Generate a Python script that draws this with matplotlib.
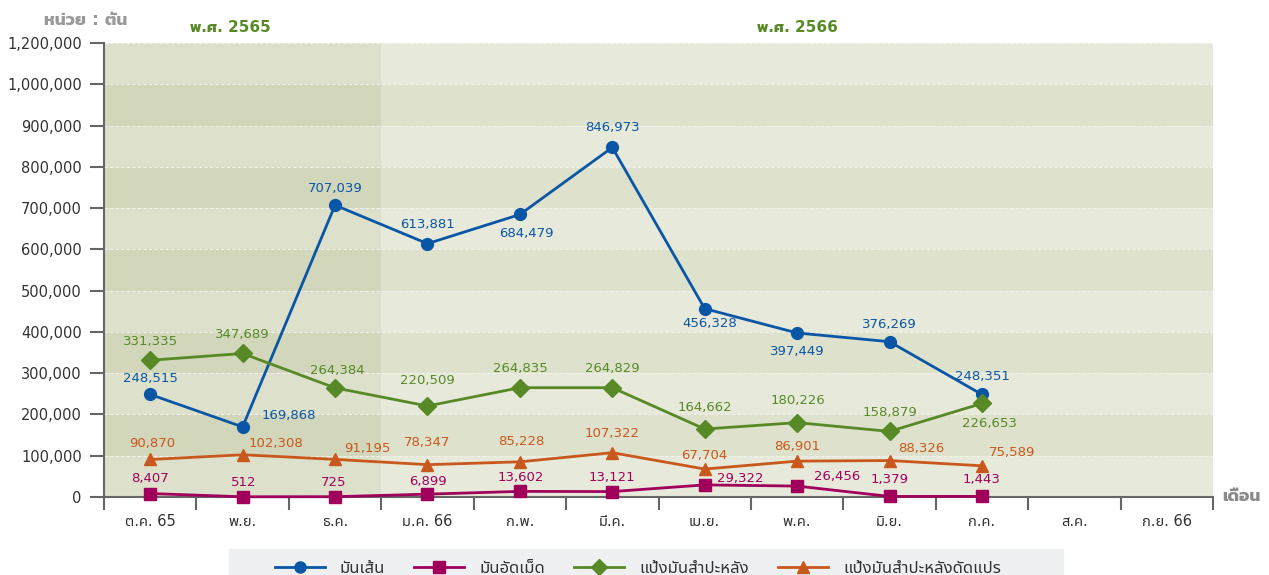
import matplotlib
matplotlib.use('Agg')
import matplotlib.pyplot as plt
import numpy as np
from matplotlib import font_manager
from matplotlib.lines import Line2D
from matplotlib.patches import Rectangle

# ---------------- data ----------------
months = ['ต.ค. 65', 'พ.ย.', 'ธ.ค.', 'ม.ค. 66', 'ก.พ.', 'มี.ค.', 'เม.ย.', 'พ.ค.',
          'มิ.ย.', 'ก.ค.', 'ส.ค.', 'ก.ย. 66']
series_names = ['มันเส้น', 'มันอัดเม็ด', 'แป้งมันสำปะหลัง', 'แป้งมันสำปะหลังดัดแปร']
mun_sen = [248515, 169868, 707039, 613881, 684479, 846973, 456328, 397449, 376269, 248351]
mun_atmet = [8407, 512, 725, 6899, 13602, 13121, 29322, 26456, 1379, 1443]
paeng = [331335, 347689, 264384, 220509, 264835, 264829, 164662, 180226, 158879, 226653]
paeng_dat = [90870, 102308, 91195, 78347, 85228, 107322, 67704, 86901, 88326, 75589]
yticks = [0, 100000, 200000, 300000, 400000, 500000, 600000, 700000, 800000,
          900000, 1000000, 1200000]
year_labels = ['พ.ศ. 2565', 'พ.ศ. 2566']
unit_label = 'หน่วย : ตัน'
xaxis_label = 'เดือน'

# ---------------- fonts ----------------
fl = font_manager.fontManager.ttflist
avail = {f.name for f in fl}
cands = ['Noto Sans Thai', 'Anuphan', 'Kanit', 'Prompt', 'Sarabun', 'Athiti', 'Bai Jamjuree', 'Loma']
thai = next((c for c in cands if c in avail), 'Loma')
def has_bold(name):
    for f in fl:
        if f.name == name:
            w = f.weight
            if isinstance(w, str):
                if 'bold' in w.lower():
                    return True
            elif w >= 650:
                return True
    return False
thai_bold = next((c for c in cands if c in avail and has_bold(c)), thai)
FAM = ['DejaVu Sans', thai]
FAMB = ['DejaVu Sans', thai_bold]
plt.rcParams['font.family'] = FAM

# ---------------- styles ----------------
colors = ['#0a56a6', '#a0005c', '#578a27', '#c9581c']
markers = ['o', 's', 'D', '^']
msizes = [8.5, 8.5, 9, 9]
offsets = [
    [(0, 16), (46, 11), (0, 17), (0, 19), (7, -19), (0, 20), (5, -15), (0, -19), (0, 17), (0, 18)],
    [(0, 15), (1, 14), (-1, 14), (0, 13), (1, 14), (0, 14), (36, 6), (40, 10), (0, 17), (0, 17)],
    [(0, 19), (0, 19), (2, 17), (0, 25), (0, 19), (0, 19), (0, 22), (1, 22), (0, 19), (7, -20)],
    [(2, 16), (33, 11), (32, 11), (0, 22), (1, 20), (0, 19), (0, 14), (0, 15), (32, 12), (30, 13)],
]
draw_order = [2, 3, 1, 0]

W, H = 1269, 575
fig = plt.figure(figsize=(W / 100, H / 100), dpi=100)
ax = fig.add_axes([104 / W, 1 - 497 / H, (1213 - 104) / W, (497 - 43) / H])

def fwd(v):
    v = np.asarray(v, dtype=float)
    return np.where(v <= 1e6, v, 1e6 + (v - 1e6) / 2)

def inv(u):
    u = np.asarray(u, dtype=float)
    return np.where(u <= 1e6, u, 1e6 + (u - 1e6) * 2)

ax.set_yscale('function', functions=(fwd, inv))
ax.set_ylim(0, 1200000)
ax.set_xlim(-0.5, len(months) - 0.5)

# background bands
split = 3 / len(months)
band_cols = {('L', 0): '#dde0cb', ('L', 1): '#d2d6bb', ('R', 0): '#e7e9da', ('R', 1): '#dee1cc'}
for k in range(len(yticks) - 1):
    dark = k % 2
    ax.axhspan(yticks[k], yticks[k + 1], xmin=0, xmax=split, color=band_cols[('L', dark)], lw=0, zorder=0)
    ax.axhspan(yticks[k], yticks[k + 1], xmin=split, xmax=1, color=band_cols[('R', dark)], lw=0, zorder=0)
for t in yticks[1:]:
    ax.axhline(t, color='#f0f1ea', lw=0.8, ls=(0, (3, 2)), zorder=0.5)

series = [mun_sen, mun_atmet, paeng, paeng_dat]
x = np.arange(len(mun_sen))
for i in draw_order:
    vals = series[i]
    ax.plot(x, vals, color=colors[i], lw=2, marker=markers[i], ms=msizes[i],
            markeredgecolor=colors[i], zorder=3 + i * 0.1, clip_on=False)
    for j, v in enumerate(vals):
        dx, dy = offsets[i][j]
        ax.annotate(f'{v:,}', (x[j], v), xytext=(dx, dy), textcoords='offset pixels',
                    ha='center', va='center', color=colors[i], fontsize=9.5, zorder=6)

# axes styling
for s in ['top', 'right']:
    ax.spines[s].set_visible(False)
for s in ['left', 'bottom']:
    ax.spines[s].set_color('#666666')
    ax.spines[s].set_linewidth(1.5)
ax.set_yticks(yticks)
ax.set_yticklabels([f'{t:,}' for t in yticks])
ax.yaxis.set_minor_locator(matplotlib.ticker.NullLocator())
ax.tick_params(axis='y', which='major', length=10, width=1.5, color='#666666',
               labelsize=10.5, labelcolor='#333333', pad=6)
ax.set_xticks(np.arange(len(months)))
ax.set_xticklabels(months)
ax.set_xticks(np.arange(len(months) + 1) - 0.5, minor=True)
ax.tick_params(axis='x', which='major', length=0, labelsize=10.5, labelcolor='#333333', pad=12)
ax.tick_params(axis='x', which='minor', length=9.5, width=1.5, color='#666666')

# texts
fig.text(127 / W, 1 - 20 / H, unit_label, ha='right', va='center', color='#9a9a9a',
         fontsize=12.5, fontweight='bold', family=FAMB)
fig.text(1222 / W, 1 - 496 / H, xaxis_label, ha='left', va='center', color='#8a8a8a',
         fontsize=12.5, fontweight='bold', family=FAMB)
fig.text(230 / W, 1 - 27 / H, year_labels[0], ha='center', va='center',
         color='#578a27', fontsize=11, fontweight='bold', family=FAMB)
fig.text(797 / W, 1 - 27 / H, year_labels[1], ha='center', va='center',
         color='#578a27', fontsize=11, fontweight='bold', family=FAMB)

# legend
fig.patches.append(Rectangle((229 / W, 0), (1063 - 229) / W, (575 - 549) / H,
                             transform=fig.transFigure, color='#eef0f2', zorder=0))
handles = [Line2D([], [], color=colors[i], lw=2, marker=markers[i], ms=msizes[i] - 0.5)
           for i in range(4)]
fig.legend(handles, series_names, loc='center', bbox_to_anchor=(638 / W, 1 - 568 / H),
           ncol=4, frameon=False, fontsize=12, handlelength=3.0, handletextpad=0.9,
           columnspacing=1.75, labelcolor='#333333')

fig.savefig('out.png', dpi=100)
